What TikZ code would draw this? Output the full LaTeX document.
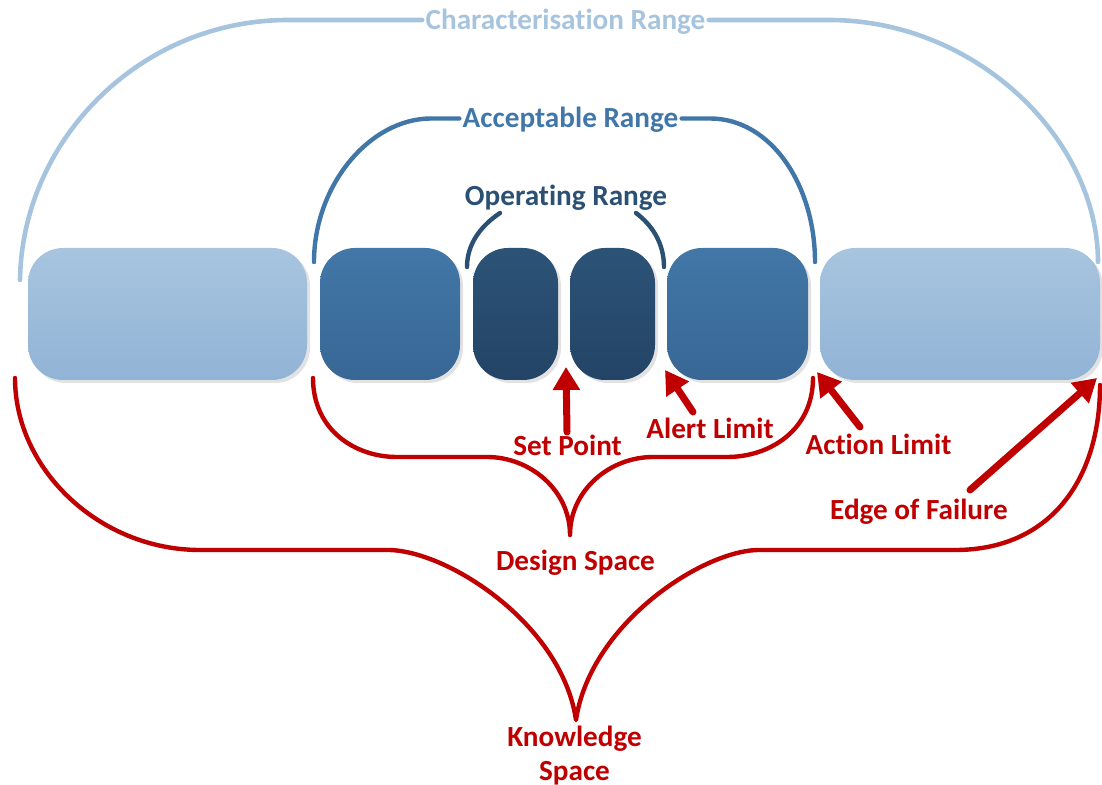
\documentclass[tikz,border=0pt]{standalone}
\usepackage{fontspec}
\setmainfont{Carlito}[Ligatures=NoCommon]
\usetikzlibrary{arrows.meta,shadows}

\definecolor{charblue}{HTML}{A7C4DE}
\definecolor{accblue}{HTML}{4177A8}
\definecolor{opblue}{HTML}{2A5073}
\definecolor{alarmred}{HTML}{C00000}
\definecolor{lbtop}{HTML}{A8C5DF}
\definecolor{lbbot}{HTML}{91B3D5}
\definecolor{mbtop}{HTML}{4277A7}
\definecolor{mbbot}{HTML}{386795}
\definecolor{dbtop}{HTML}{2C5377}
\definecolor{dbbot}{HTML}{234466}
\definecolor{shadowgray}{HTML}{E2E2E2}

\begin{document}
\begin{tikzpicture}[x=0.5pt,y=-0.5pt,
  band/.style={rounded corners=17.5pt, minimum height=66pt, inner sep=0pt,
    drop shadow={shadow xshift=1.5pt, shadow yshift=-1.5pt, fill=shadowgray, opacity=1}},
  lightband/.style={band, top color=lbtop, bottom color=lbbot},
  midband/.style={band, top color=mbtop, bottom color=mbbot},
  darkband/.style={band, top color=dbtop, bottom color=dbbot},
  lbl/.style={font=\fontsize{14.6}{16.8}\selectfont\bfseries, text height=9.3pt,
    text depth=0pt, inner xsep=1.5pt, inner ysep=0pt},
  redlbl/.style={lbl, text=alarmred},
  charline/.style={draw=charblue, line width=2.3pt, line cap=round},
  accline/.style={draw=accblue, line width=2.2pt, line cap=round},
  opline/.style={draw=opblue, line width=2.2pt, line cap=round},
  redline/.style={draw=alarmred, line width=2.2pt, line cap=round, line join=round},
  redarrow/.style={draw=alarmred, line width=3.5pt, line cap=round,
    -{Triangle[length=11.5pt,width=13pt]}}
]
\useasboundingbox (0,0) rectangle (1102,785);

% the six range bands
\node[lightband, minimum width=139.5pt] (b1) at (167.5,314) {};
\node[midband,   minimum width=70pt]    (b2) at (390,314) {};
\node[darkband,  minimum width=42.5pt]  (b3) at (515.5,314) {};
\node[darkband,  minimum width=42.5pt]  (b4) at (612.5,314) {};
\node[midband,   minimum width=70.5pt]  (b5) at (737.5,314) {};
\node[lightband, minimum width=140pt]   (b6) at (960,314) {};

% range titles
\node[lbl, text=charblue] (chartxt) at (565.5,20) {Characterisation Range};
\node[lbl, text=accblue] (acctxt) at (570.5,118.5) {Acceptable Range};
\node[lbl, text=opblue] (optxt) at (566,196.5) {Operating Range};

% characterisation range bracket
\draw[charline] (20,280) .. controls (22,140) and (140,20) .. (288,20) -- (chartxt.west);
\draw[charline] (chartxt.east) -- (829,20) .. controls (977,20) and (1098,140) .. (1098,262);

% acceptable range bracket
\draw[accline] (314,262) .. controls (314,185) and (370,118.5) .. (431,118.5) -- (acctxt.west);
\draw[accline] (acctxt.east) -- (710,118.5) .. controls (771,118.5) and (815,185) .. (815,262);

% operating range bracket
\draw[opline] (467,267) .. controls (467,243) and (482,225) .. (500,213);
\draw[opline] (636,213) .. controls (652,225) and (664,243) .. (664,267);

% limit labels
\node[redlbl] (sp) at (567.5,446.5) {Set Point};
\node[redlbl] (al) at (710,429) {Alert Limit};
\node[redlbl] (ac) at (878.5,445.5) {Action Limit};
\node[redlbl] (ef) at (919,510) {Edge of Failure};
\node[redlbl] (ds) at (575.5,561) {Design Space};
\node[font=\fontsize{14.6}{16.8}\selectfont\bfseries, text=alarmred, align=center,
  inner sep=0pt] (ks) at (574.5,755.5) {Knowledge\\Space};

% design space brace
\draw[redline] (313,378) .. controls (313,430) and (355,457) .. (397,457) -- (487,457)
  .. controls (530,457) and (570,490) .. (570,535)
  .. controls (570,490) and (610,457) .. (653,457) -- (727,457)
  .. controls (770,457) and (813,430) .. (813,378);

% knowledge space brace
\draw[redline] (15,378) .. controls (15,470) and (100,550) .. (200,550) -- (390,550)
  .. controls (450,552) and (562,625) .. (576,720)
  .. controls (590,625) and (700,552) .. (757,550) -- (955,550)
  .. controls (1050,550) and (1100,480) .. (1100,385);

% arrow ends
\coordinate (sp-tail) at (567,432);
\coordinate (sp-tip) at (566,367);
\coordinate (al-tail) at (693,412);
\coordinate (al-tip) at (665,370);
\coordinate (ac-tail) at (860,427);
\coordinate (ac-tip) at (817,372);
\coordinate (ef-tail) at (970,490);
\coordinate (ef-tip) at (1097,378);

\draw[redarrow] (sp-tail) -- (sp-tip);
\draw[redarrow] (al-tail) -- (al-tip);
\draw[redarrow] (ac-tail) -- (ac-tip);
\draw[redarrow] (ef-tail) -- (ef-tip);
\end{tikzpicture}
\end{document}
